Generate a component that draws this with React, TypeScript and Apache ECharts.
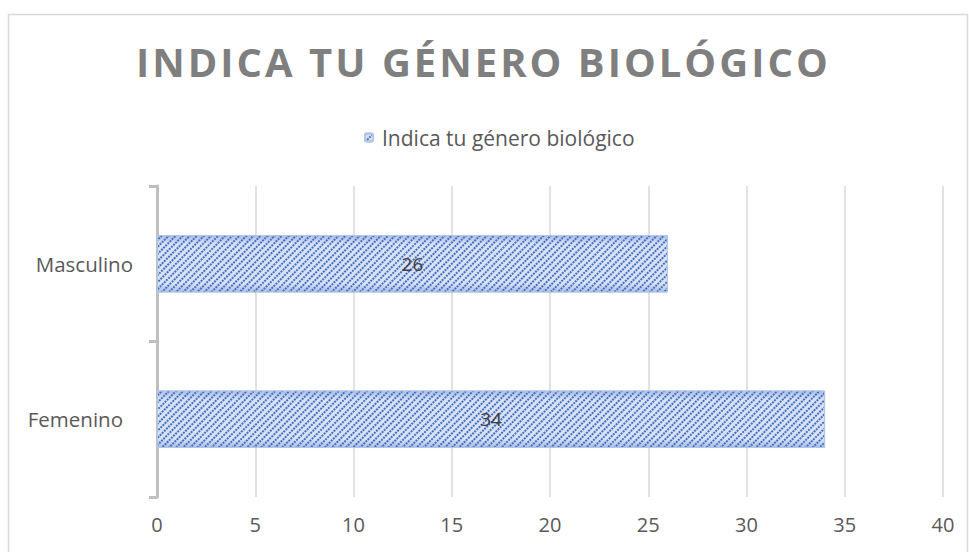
import React, { useEffect, useRef } from "react";
import * as echarts from "echarts";

const titleText = "INDICA TU GÉNERO BIOLÓGICO";
const seriesName = "Indica tu género biológico";
const categories = ["Masculino", "Femenino"];
const values = [26, 34];
const xTicks = { min: 0, max: 40, interval: 5 };

export default function App() {
  const ref = useRef<HTMLDivElement>(null);
  useEffect(() => {
    if (!ref.current) return;
    const chart = echarts.init(ref.current, null, { renderer: "svg" });
    const font = "'Open Sans', 'Noto Sans', sans-serif";
    const barColor = new echarts.graphic.LinearGradient(0, 0, 0, 1, [
      { offset: 0, color: "#a9bde6" },
      { offset: 0.15, color: "#d9e2f4" },
      { offset: 0.85, color: "#d9e2f4" },
      { offset: 1, color: "#a9bde6" },
    ]);
    chart.setOption({
      animation: false,
      backgroundColor: "#ffffff",
      textStyle: { fontFamily: font },
      graphic: [
        {
          type: "rect",
          shape: { x: 8.5, y: 14.5, width: 959, height: 600 },
          style: { fill: "none", stroke: "#d9d9d9", lineWidth: 1.5 },
          silent: true,
        },
        {
          type: "text",
          left: 136,
          top: 41,
          style: {
            text: titleText,
            font: `bold 40px ${font}`,
            fill: "#7f7f7f",
          },
        },
      ],
      legend: {
        top: 122,
        left: 359,
        data: [seriesName],
        itemWidth: 8,
        itemHeight: 8,
        itemGap: 8,
        textStyle: { fontSize: 21, color: "#595959", fontFamily: font, padding: [0, 0, 0, 4] },
      },
      grid: { left: 157, right: 26, top: 186, bottom: 55, containLabel: false },
      xAxis: {
        type: "value",
        min: xTicks.min,
        max: xTicks.max,
        interval: xTicks.interval,
        axisLine: { show: false },
        axisTick: { show: false },
        splitLine: { lineStyle: { color: "#d9d9d9", width: 1.5 } },
        axisLabel: { fontSize: 20, color: "#595959", margin: 17, fontFamily: font },
      },
      yAxis: {
        type: "category",
        inverse: true,
        data: categories.map((c, i) =>
          i === 1 ? { value: c, textStyle: { padding: [0, 10, 0, 0] } } : c
        ),
        axisLine: { lineStyle: { color: "#bfbfbf", width: 3 } },
        axisTick: { show: true, length: 8, lineStyle: { color: "#bfbfbf", width: 3 } },
        axisLabel: { fontSize: 20.5, color: "#595959", margin: 24, fontFamily: font },
      },
      series: [
        {
          name: seriesName,
          type: "bar",
          data: values,
          barWidth: "37%",
          itemStyle: {
            color: barColor,
            borderColor: "#b4c7e7",
            borderWidth: 1,
            decal: {
              symbol: "rect",
              symbolSize: 1,
              color: "#4472c4",
              dashArrayX: [2, 1],
              dashArrayY: [1.3, 3],
              rotation: -Math.PI / 4,
            },
          },
          label: {
            show: true,
            position: "inside",
            fontSize: 19,
            color: "#404040",
            fontFamily: font,
          },
        },
      ],
    });
    ref.current.querySelectorAll("text").forEach((t) => {
      if (t.textContent === titleText) {
        (t as SVGTextElement).style.letterSpacing = "3px";
      }
    });
    return () => chart.dispose();
  }, []);
  return (
    <div
      ref={ref}
      style={{ position: "fixed", left: 0, top: 0, width: 969, height: 552 }}
    />
  );
}
